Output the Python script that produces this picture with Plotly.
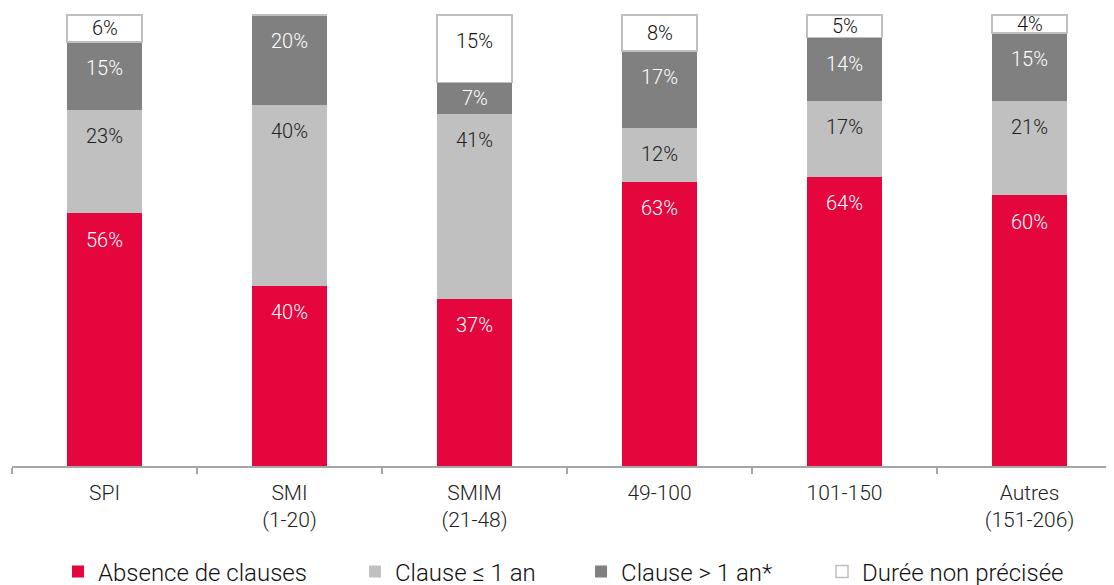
import plotly.graph_objects as go

categories = ["SPI", "SMI<br>(1-20)", "SMIM<br>(21-48)", "49-100", "101-150", "Autres<br>(151-206)"]
series_names = ["Absence de clauses", "Clause ≤ 1 an", "Clause > 1 an*", "Durée non précisée"]
absence = [56, 40, 37, 63, 64, 60]
clause_le1 = [23, 40, 41, 12, 17, 21]
clause_gt1 = [15, 20, 7, 17, 14, 15]
non_precisee = [6, 0, 15, 8, 5, 4]

values = [absence, clause_le1, clause_gt1, non_precisee]
colors = ["#E5063E", "#C0C0C0", "#808080", "#FFFFFF"]
text_colors = ["#FFFFFF", "#222222", "#FFFFFF", "#111111"]
line_colors = ["rgba(0,0,0,0)", "rgba(0,0,0,0)", "rgba(0,0,0,0)", "#BFBFBF"]
legend_ids = ["legend", "legend2", "legend3", "legend4"]
legend_x = [0.0449, 0.3115, 0.5144, 0.7307]

FONT = "Roboto, 'Liberation Sans', Arial, sans-serif"
WEIGHT = 300
LABEL_OFFSET = 5.8  # data units below segment top for label centre

fig = go.Figure()
for name, vals, col, lcol, lid in zip(series_names, values, colors, line_colors, legend_ids):
    fig.add_trace(go.Bar(
        x=categories,
        y=vals,
        name=name,
        legend=lid,
        marker=dict(color=col, line=dict(color=lcol, width=1.5)),
        hoverinfo="skip",
    ))

# value labels placed from the stacked data
cum = [0] * len(categories)
for vals, tcol in zip(values, text_colors):
    for i, v in enumerate(vals):
        top = cum[i] + v
        if v > 0:
            fig.add_annotation(
                x=categories[i], y=top - min(LABEL_OFFSET, v / 2),
                xref="x", yref="y",
                text=f"{v}%", showarrow=False,
                yanchor="middle", xanchor="center",
                font=dict(color=tcol, size=20, family=FONT, weight=WEIGHT),
            )
        cum[i] = top

layout_legends = {}
for lid, lx in zip(legend_ids, legend_x):
    layout_legends[lid] = dict(
        x=lx, xref="container", xanchor="left",
        y=1 - 564 / 585, yref="container", yanchor="middle",
        orientation="h",
        font=dict(size=24, family=FONT, color="#111111", weight=WEIGHT),
        bgcolor="rgba(0,0,0,0)",
        itemclick=False, itemdoubleclick=False,
    )

fig.update_layout(
    width=1114, height=585,
    barmode="stack",
    bargap=0.595,
    plot_bgcolor="white",
    paper_bgcolor="white",
    margin=dict(l=4, r=0, t=6, b=127, autoexpand=False),
    font=dict(family=FONT, size=18, color="#222222", weight=WEIGHT),
    showlegend=True,
    xaxis=dict(
        type="category",
        range=[-0.5, 5.5],
        showline=True, linecolor="#A6A6A6", linewidth=1.5,
        ticks="outside", tickson="boundaries", ticklen=6, tickcolor="#A6A6A6", tickwidth=1.5,
        ticklabelstandoff=7,
        tickfont=dict(size=21, family=FONT, color="#222222", weight=WEIGHT),
        showgrid=False, zeroline=False,
    ),
    yaxis=dict(
        range=[0, 100.2],
        visible=False, showgrid=False, zeroline=False,
    ),
    **layout_legends,
)

fig.write_html("out.html")
